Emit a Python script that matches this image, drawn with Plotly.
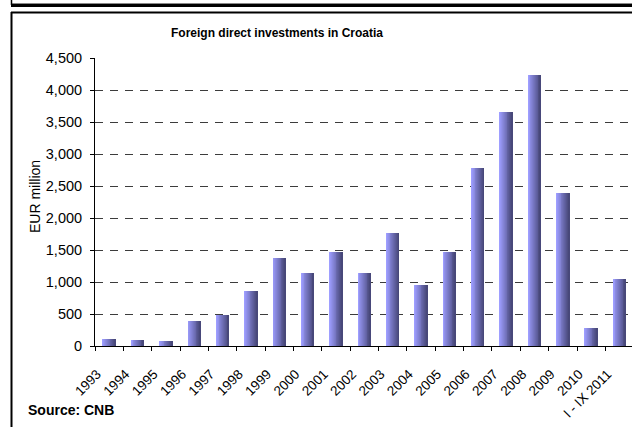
import plotly.graph_objects as go

categories = ["1993", "1994", "1995", "1996", "1997", "1998", "1999", "2000", "2001",
              "2002", "2003", "2004", "2005", "2006", "2007", "2008", "2009", "2010",
              "I - IX 2011"]
fdi_eur_million = [115, 100, 85, 395, 490, 860, 1375, 1140, 1470,
                   1140, 1765, 955, 1470, 2780, 3655, 4230, 2390, 285, 1050]
y_tick_values = [0, 500, 1000, 1500, 2000, 2500, 3000, 3500, 4000, 4500]
y_tick_labels = ["0", "500", "1,000", "1,500", "2,000", "2,500", "3,000", "3,500", "4,000", "4,500"]

W, H = 632, 427
ML, MR, MT, MB = 95, 0, 58, 81
PW, PH = W - ML - MR, H - MT - MB

def px(x):
    return (x - ML) / PW

def py(y):
    return (H - MB - y) / PH

fig = go.Figure()

# horizontal gradient bars built from narrow strips
N = 14
bw = 0.44
c0 = (158, 158, 255)
c1 = (72, 72, 122)
for i in range(N):
    t = i / (N - 1)
    col = "rgb(%d,%d,%d)" % tuple(round(a + (b - a) * t) for a, b in zip(c0, c1))
    sw = bw / N * (1.4 if i < N - 1 else 1.0)
    fig.add_trace(go.Bar(
        x=categories, y=fdi_eur_million,
        width=[sw] * len(categories),
        offset=[-bw / 2 + i * bw / N] * len(categories),
        marker=dict(color=col, line=dict(width=0)),
        hoverinfo="skip", showlegend=False,
    ))

font = "Liberation Sans, Arial, sans-serif"

fig.update_layout(
    width=W, height=H,
    margin=dict(l=ML, r=MR, t=MT, b=MB, pad=0),
    paper_bgcolor="white", plot_bgcolor="white",
    barmode="overlay",
    bargap=0,
    font=dict(family=font, size=12, color="black"),
    title=dict(text="<b>Foreign direct investments in Croatia</b>",
               x=277 / W, xanchor="center", xref="container",
               y=1 - 33 / H, yanchor="middle", yref="container",
               font=dict(family=font, size=12, color="black")),
    showlegend=False,
)

fig.update_xaxes(
    type="category",
    range=[-0.5, 18.44],
    showline=True, linecolor="black", linewidth=1,
    ticks="outside", ticklen=4, tickcolor="black", tickwidth=1,
    tickson="boundaries",
    tickangle=-45,
    ticklabelshift=-12, ticklabelstandoff=14,
    tickfont=dict(family=font, size=13.5, color="black"),
    showgrid=False,
)

fig.update_yaxes(
    range=[0, 4500],
    tickvals=y_tick_values, ticktext=y_tick_labels,
    showline=True, linecolor="black", linewidth=1,
    ticks="outside", ticklen=4, tickcolor="black", tickwidth=1,
    ticklabelstandoff=5,
    tickfont=dict(family=font, size=14.5, color="black"),
    showgrid=True, gridcolor="#3c3c3c", gridwidth=1, griddash="8px,7px",
    zeroline=False,
)

fig.add_annotation(
    text="EUR million", textangle=-90,
    x=px(35), y=py(197), xref="paper", yref="paper",
    xanchor="center", yanchor="middle", showarrow=False,
    font=dict(family=font, size=14, color="black"),
)
fig.add_annotation(
    text="<b>Source: CNB</b>",
    x=px(26), y=py(410), xref="paper", yref="paper",
    xanchor="left", yanchor="middle", showarrow=False,
    font=dict(family=font, size=14, color="black"),
)

# frame decorations
shapes = [
    dict(type="line", x0=px(11), x1=px(640), y0=py(3.5), y1=py(3.5), line=dict(color="#888", width=1)),
    dict(type="line", x0=px(11), x1=px(640), y0=py(5.5), y1=py(5.5), line=dict(color="black", width=3)),
    dict(type="line", x0=px(11.5), x1=px(11.5), y0=py(-2), y1=py(5), line=dict(color="black", width=1.5)),
    dict(type="line", x0=px(11), x1=px(640), y0=py(12.5), y1=py(12.5), line=dict(color="black", width=2)),
    dict(type="line", x0=px(11.5), x1=px(11.5), y0=py(12), y1=py(430), line=dict(color="black", width=2)),
]
for s in shapes:
    s.update(xref="paper", yref="paper", layer="above")
    fig.add_shape(**s)

fig.write_html("out.html")
